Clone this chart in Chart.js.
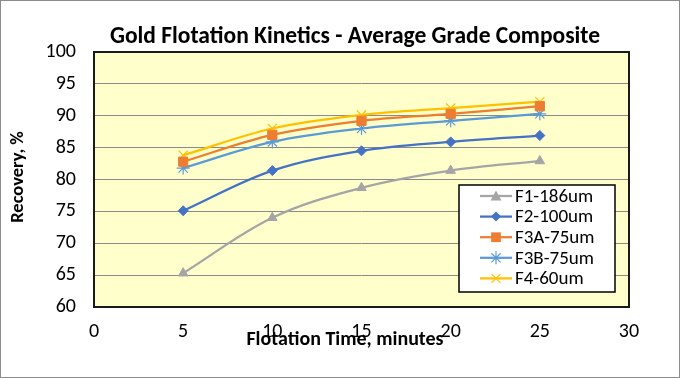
<!DOCTYPE html>
<html><head><meta charset="utf-8">
<script src="https://cdn.jsdelivr.net/npm/chart.js@4.4.0/dist/chart.umd.min.js"></script>
<style>
html,body{margin:0;padding:0;background:#fff;}
#wrap{position:relative;width:680px;height:378px;}
canvas{display:block;}
</style></head><body>
<div id="wrap"><canvas id="c" width="680" height="378"></canvas></div>
<script>
const times = [5, 10, 15, 20, 25];
const seriesNames = ['F1-186um', 'F2-100um', 'F3A-75um', 'F3B-75um', 'F4-60um'];
const f1 = [65.3, 74.0, 78.7, 81.4, 82.9];
const f2 = [75.1, 81.4, 84.5, 85.9, 86.9];
const f3a = [82.8, 87.0, 89.2, 90.3, 91.5];
const f3b = [81.8, 85.9, 88.0, 89.2, 90.3];
const f4 = [83.8, 88.0, 90.1, 91.2, 92.2];
const xTicks = [0, 5, 10, 15, 20, 25, 30];
const yTicks = [60, 65, 70, 75, 80, 85, 90, 95, 100];

const FONT = 'Carlito, Lato, "Open Sans", sans-serif';
const colors = ['#A5A5A5', '#4472C4', '#ED7D31', '#5B9BD5', '#FFC000'];
const styles = ['triangle', 'rectRot', 'rect', 'star', 'crossRot'];
const radii = [5.5, 5, 6.5, 6.5, 6.5];
const vals = [f1, f2, f3a, f3b, f4];

const datasets = vals.map((v, i) => ({
  label: seriesNames[i],
  data: v.map((y, k) => ({x: times[k], y})),
  borderColor: colors[i],
  backgroundColor: colors[i],
  borderWidth: 2.25,
  pointStyle: styles[i],
  pointRadius: radii[i],
  pointBorderWidth: (styles[i] === 'star' || styles[i] === 'crossRot') ? 1.2 : 1,
  tension: 0.35,
  fill: false
}));

function drawMarker(ctx, style, r, x, y) {
  if (style === 'triangle') {
    ctx.moveTo(x, y - r); ctx.lineTo(x + r, y + r * 0.8); ctx.lineTo(x - r, y + r * 0.8); ctx.closePath(); ctx.fill();
  } else if (style === 'rectRot') {
    ctx.moveTo(x, y - r); ctx.lineTo(x + r, y); ctx.lineTo(x, y + r); ctx.lineTo(x - r, y); ctx.closePath(); ctx.fill();
  } else if (style === 'rect') {
    ctx.rect(x - r * 0.75, y - r * 0.75, r * 1.5, r * 1.5); ctx.fill();
  } else if (style === 'star') {
    ctx.moveTo(x, y - r); ctx.lineTo(x, y + r);
    ctx.moveTo(x - r * 0.7, y - r * 0.7); ctx.lineTo(x + r * 0.7, y + r * 0.7);
    ctx.moveTo(x + r * 0.7, y - r * 0.7); ctx.lineTo(x - r * 0.7, y + r * 0.7); ctx.stroke();
  } else {
    ctx.moveTo(x - r * 0.7, y - r * 0.7); ctx.lineTo(x + r * 0.7, y + r * 0.7);
    ctx.moveTo(x + r * 0.7, y - r * 0.7); ctx.lineTo(x - r * 0.7, y + r * 0.7); ctx.stroke();
  }
}

const decor = {
  id: 'decor',
  beforeDraw(chart) {
    const {ctx, chartArea: a} = chart;
    ctx.save();
    ctx.fillStyle = '#fff';
    ctx.fillRect(0, 0, chart.width, chart.height);
    ctx.strokeStyle = '#8c8c8c';
    ctx.lineWidth = 1;
    ctx.strokeRect(0.5, 0.5, chart.width - 1, chart.height - 1);
    ctx.fillStyle = '#FFFFCC';
    ctx.fillRect(a.left, a.top, a.right - a.left, a.bottom - a.top);
    ctx.restore();
  },
  afterDraw(chart) {
    const {ctx, chartArea: a} = chart;
    ctx.save();
    ctx.strokeStyle = '#1a1a1a';
    ctx.lineWidth = 2;
    ctx.strokeRect(a.left, a.top, a.right - a.left, a.bottom - a.top);
    ctx.fillStyle = '#000';
    ctx.textAlign = 'center';
    ctx.textBaseline = 'middle';
    ctx.font = 'bold 23.5px ' + FONT;
    ctx.fillText('Gold Flotation Kinetics - Average Grade Composite', 355, 37);
    ctx.font = 'bold 20px ' + FONT;
    ctx.fillText('Flotation Time, minutes', 345, 340);
    ctx.save();
    ctx.translate(18, 177);
    ctx.rotate(-Math.PI / 2);
    ctx.font = 'bold 18.5px ' + FONT;
    ctx.fillText('Recovery, %', 0, 0);
    ctx.restore();
    // legend
    const lx = 459, ly = 185, lw = 156, lh = 107;
    ctx.fillStyle = '#fff';
    ctx.fillRect(lx, ly, lw, lh);
    ctx.strokeStyle = '#000';
    ctx.lineWidth = 1.5;
    ctx.strokeRect(lx, ly, lw, lh);
    ctx.textAlign = 'left';
    ctx.font = '19px ' + FONT;
    chart.data.datasets.forEach((ds, i) => {
      const y = ly + 11 + i * 20.6;
      ctx.strokeStyle = ds.borderColor;
      ctx.lineWidth = 2.25;
      ctx.beginPath();
      ctx.moveTo(480, y);
      ctx.lineTo(512, y);
      ctx.stroke();
      ctx.fillStyle = ds.borderColor;
      ctx.lineWidth = ds.pointBorderWidth;
      ctx.beginPath();
      drawMarker(ctx, ds.pointStyle, ds.pointRadius, 496, y);
      ctx.fillStyle = '#000';
      ctx.fillText(ds.label, 515, y + 1);
    });
    ctx.restore();
  }
};

new Chart(document.getElementById('c'), {
  type: 'line',
  data: {datasets},
  options: {
    responsive: false,
    animation: false,
    layout: {padding: {left: 40, right: 51, top: 52, bottom: 0}},
    plugins: {legend: {display: false}, tooltip: {enabled: false}},
    scales: {
      x: {
        type: 'linear', min: 0, max: 30,
        afterBuildTicks: s => { s.ticks = xTicks.map(v => ({value: v})); },
        afterFit: s => { s.height = 71; },
        grid: {display: false, drawTicks: false},
        border: {display: false},
        ticks: {color: '#000', font: {family: FONT, size: 20}, padding: 13, maxRotation: 0, autoSkip: false}
      },
      y: {
        min: 60, max: 100,
        afterBuildTicks: s => { s.ticks = yTicks.map(v => ({value: v})); },
        afterFit: s => { s.width = 54; },
        grid: {color: '#8a8a8a', lineWidth: 1, drawTicks: false},
        border: {display: false},
        ticks: {color: '#000', font: {family: FONT, size: 20}, padding: 18}
      }
    }
  },
  plugins: [decor]
});
</script>
</body></html>
